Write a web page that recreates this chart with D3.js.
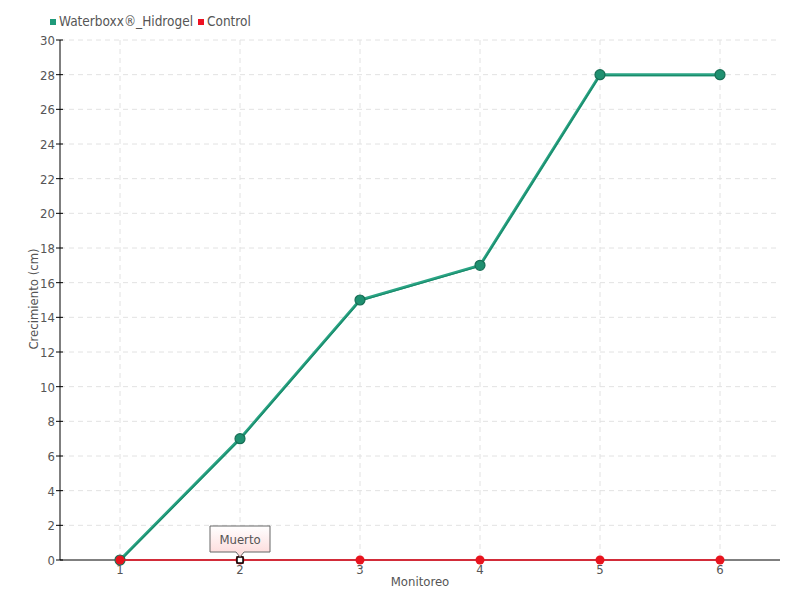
<!DOCTYPE html>
<html>
<head>
<meta charset="utf-8">
<script src="https://cdn.jsdelivr.net/npm/d3@7"></script>
<style>
body { margin: 0; background: #fff; }
text { font-family: "DejaVu Sans Condensed", "DejaVu Sans", sans-serif; font-stretch: condensed; fill: #555; }
</style>
</head>
<body>
<div id="chart"></div>
<script>
// data
var monitoreo = [1, 2, 3, 4, 5, 6];
var waterboxx = [0, 7, 15, 17, 28, 28];
var control = [0, 0, 0, 0, 0, 0];
var yTicks = d3.range(0, 31, 2);
var seriesNames = ["Waterboxx®_Hidrogel", "Control"];
var noteLabel = "Muerto";
var noteIndex = 1;

var width = 800, height = 600;
var pLeft = 60, pRight = 780, pTop = 40, pBottom = 560;

var svg = d3.select("#chart").append("svg")
	.attr("width", width)
	.attr("height", height);

var x = d3.scaleLinear().domain([0.5, 6.5]).range([pLeft, pRight]);
var y = d3.scaleLinear().domain([0, 30]).range([pBottom, pTop]);

// grid
svg.selectAll(".hgrid").data(yTicks.slice(1)).enter().append("line")
	.attr("x1", pLeft).attr("x2", pRight)
	.attr("y1", d => y(d)).attr("y2", d => y(d))
	.attr("stroke", "#e2e2e2").attr("stroke-dasharray", "5,4");
svg.selectAll(".vgrid").data(monitoreo).enter().append("line")
	.attr("x1", d => x(d)).attr("x2", d => x(d))
	.attr("y1", pTop).attr("y2", pBottom)
	.attr("stroke", "#e2e2e2").attr("stroke-dasharray", "5,4");

// axes
svg.append("line").attr("x1", pLeft).attr("x2", pLeft).attr("y1", pTop).attr("y2", pBottom)
	.attr("stroke", "#000");
svg.append("line").attr("x1", pLeft).attr("x2", pRight).attr("y1", pBottom).attr("y2", pBottom)
	.attr("stroke", "#000");

svg.selectAll(".ytick").data(yTicks).enter().append("line")
	.attr("x1", pLeft - 4).attr("x2", pLeft + 3)
	.attr("y1", d => y(d)).attr("y2", d => y(d))
	.attr("stroke", "#000");
svg.selectAll(".ylab").data(yTicks).enter().append("text")
	.attr("x", pLeft - 5).attr("y", d => y(d) + 5)
	.attr("text-anchor", "end").attr("font-size", 13)
	.text(d => d);
svg.selectAll(".xlab").data(monitoreo).enter().append("text")
	.attr("x", d => x(d)).attr("y", pBottom + 14)
	.attr("text-anchor", "middle").attr("font-size", 13)
	.text(d => d);

svg.append("text").attr("x", 420).attr("y", 586)
	.attr("text-anchor", "middle").attr("font-size", 13)
	.text("Monitoreo");
svg.append("text")
	.attr("transform", "translate(38," + 299 + ") rotate(-90)")
	.attr("text-anchor", "middle").attr("font-size", 13)
	.text("Crecimiento (cm)");

// green series
var line = d3.line().x((d, i) => x(monitoreo[i])).y(d => y(d));
svg.append("path").datum(waterboxx)
	.attr("d", line).attr("fill", "none")
	.attr("stroke", "#2aa585").attr("stroke-width", 3);
svg.append("path").datum(waterboxx)
	.attr("d", line).attr("fill", "none")
	.attr("transform", "translate(0,1)")
	.attr("stroke", "#1a8a6a").attr("stroke-width", 1.2);
svg.selectAll(".gdot").data(waterboxx).enter().append("circle")
	.attr("cx", (d, i) => x(monitoreo[i])).attr("cy", d => y(d))
	.attr("r", 5).attr("fill", "#1f9070").attr("stroke", "#176e55").attr("stroke-width", 1.2);

// red series
svg.append("path").datum(control)
	.attr("d", line).attr("fill", "none")
	.attr("stroke", "#ee1122").attr("stroke-width", 1.5);
svg.selectAll(".rdot").data(control).enter().append("circle")
	.attr("cx", (d, i) => x(monitoreo[i])).attr("cy", d => y(d))
	.attr("r", 4.5).attr("fill", "#e8141e");

// note marker
var nx = x(monitoreo[noteIndex]), ny = y(control[noteIndex]);
svg.append("rect").attr("x", nx - 3).attr("y", ny - 3).attr("width", 6).attr("height", 6)
	.attr("fill", "#fff").attr("stroke", "#000").attr("stroke-width", 1.5);

var defs = svg.append("defs");
var grad = defs.append("linearGradient").attr("id", "tip").attr("x1", 0).attr("x2", 0).attr("y1", 0).attr("y2", 1);
grad.append("stop").attr("offset", "0%").attr("stop-color", "#fff");
grad.append("stop").attr("offset", "100%").attr("stop-color", "#fdd8d8");
var bx = nx - 30, by = ny - 34, bw = 60, bh = 26;
svg.append("path")
	.attr("d", "M" + bx + "," + by + "h" + bw + "v" + bh + "h-" + (bw / 2 - 4) +
		"l-4,5l-4,-5h-" + (bw / 2 - 4) + "z")
	.attr("fill", "url(#tip)").attr("stroke", "#666").attr("stroke-width", 1);
svg.append("text").attr("x", nx).attr("y", by + 18)
	.attr("text-anchor", "middle").attr("font-size", 13)
	.text(noteLabel);

// legend
var legColors = ["#1f9a7a", "#ee1122"];
var legX = [50, 198];
seriesNames.forEach(function(name, i) {
	svg.append("rect").attr("x", legX[i]).attr("y", 19).attr("width", 6).attr("height", 6)
		.attr("fill", legColors[i]);
	svg.append("text").attr("x", legX[i] + 9).attr("y", 26)
		.attr("font-size", 13.5).text(name);
});
</script>
</body>
</html>
